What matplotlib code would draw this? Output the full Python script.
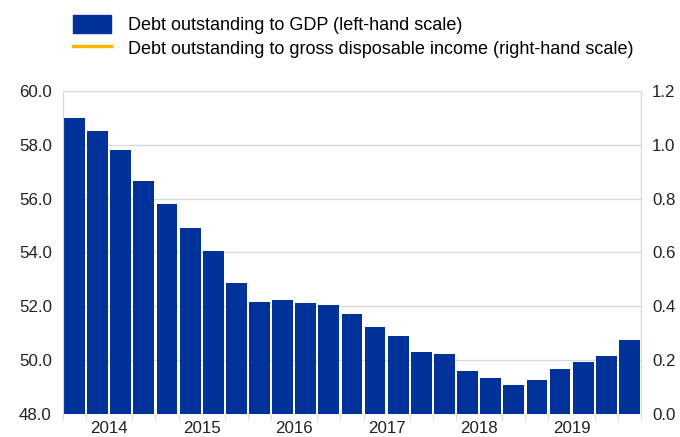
import matplotlib
matplotlib.use("Agg")
import matplotlib.pyplot as plt
from matplotlib.patches import Patch
from matplotlib.lines import Line2D

plt.rcParams['font.family'] = ['Liberation Sans', 'DejaVu Sans']

# quarterly, 2014 Q1 - 2020 Q1
debt_to_gdp = [59.0, 58.5, 57.8, 56.65, 55.8, 54.9, 54.05, 52.87,
               52.17, 52.23, 52.12, 52.05, 51.71, 51.23, 50.9, 50.3,
               50.22, 49.6, 49.32, 49.07, 49.25, 49.66, 49.92, 50.15, 50.76]
debt_to_income = []  # not visible in the chart
years = ['2014', '2015', '2016', '2017', '2018', '2019']

blue = '#003299'
orange = '#ffb400'
grid = '#d9d9d9'
fs = 12.2

fig = plt.figure(figsize=(6.8, 4.37), dpi=100)
ax = fig.add_axes([0.0926, 0.0526, 0.850, 0.7392])
ax2 = ax.twinx()

x = list(range(len(debt_to_gdp)))
ax.bar(x, debt_to_gdp, width=0.9, color=blue, zorder=3)
ax2.plot(x[:len(debt_to_income)], debt_to_income, color=orange, lw=2.5)

ax.set_xlim(-0.5, len(x) - 0.5)
ax.set_ylim(48, 60)
ax.set_yticks([48 + 2 * i for i in range(7)])
ax.set_yticklabels(['%.1f' % (48 + 2 * i) for i in range(7)])
ax2.set_ylim(0, 1.2)
ax2.set_yticks([0.2 * i for i in range(7)])
ax2.set_yticklabels(['%.1f' % (0.2 * i) for i in range(7)])

ax.set_xticks([i - 0.5 for i in range(len(x) + 1)], minor=True)
ax.set_xticks([4 * i + 1.5 for i in range(len(years))])
ax.set_xticklabels(years)
ax.tick_params(axis='x', which='major', length=0, pad=5, labelsize=fs, colors='#222222')
ax.tick_params(axis='x', which='minor', length=5, color=grid, direction='out')
ax.tick_params(axis='y', length=0, pad=8, labelsize=fs, colors='#222222')
ax2.tick_params(axis='y', length=0, pad=8, labelsize=fs, colors='#222222')

ax.yaxis.grid(True, color=grid, lw=1, zorder=0)
ax.set_axisbelow(True)
for a in (ax, ax2):
    for s in ('top', 'bottom'):
        a.spines[s].set_visible(False)
    a.spines['left'].set_color(grid)
    a.spines['right'].set_color(grid)

handles = [Patch(facecolor=blue, edgecolor=blue),
           Line2D([], [], color=orange, lw=2.5)]
labels = ['Debt outstanding to GDP (left-hand scale)',
          'Debt outstanding to gross disposable income (right-hand scale)']
fig.legend(handles, labels, loc='upper left', bbox_to_anchor=(0.1074, 0.966),
           frameon=False, fontsize=13, handlelength=2.1, handleheight=1.15,
           handletextpad=0.94, labelspacing=0.25, borderaxespad=0, borderpad=0)

fig.savefig('out.png', dpi=100)
